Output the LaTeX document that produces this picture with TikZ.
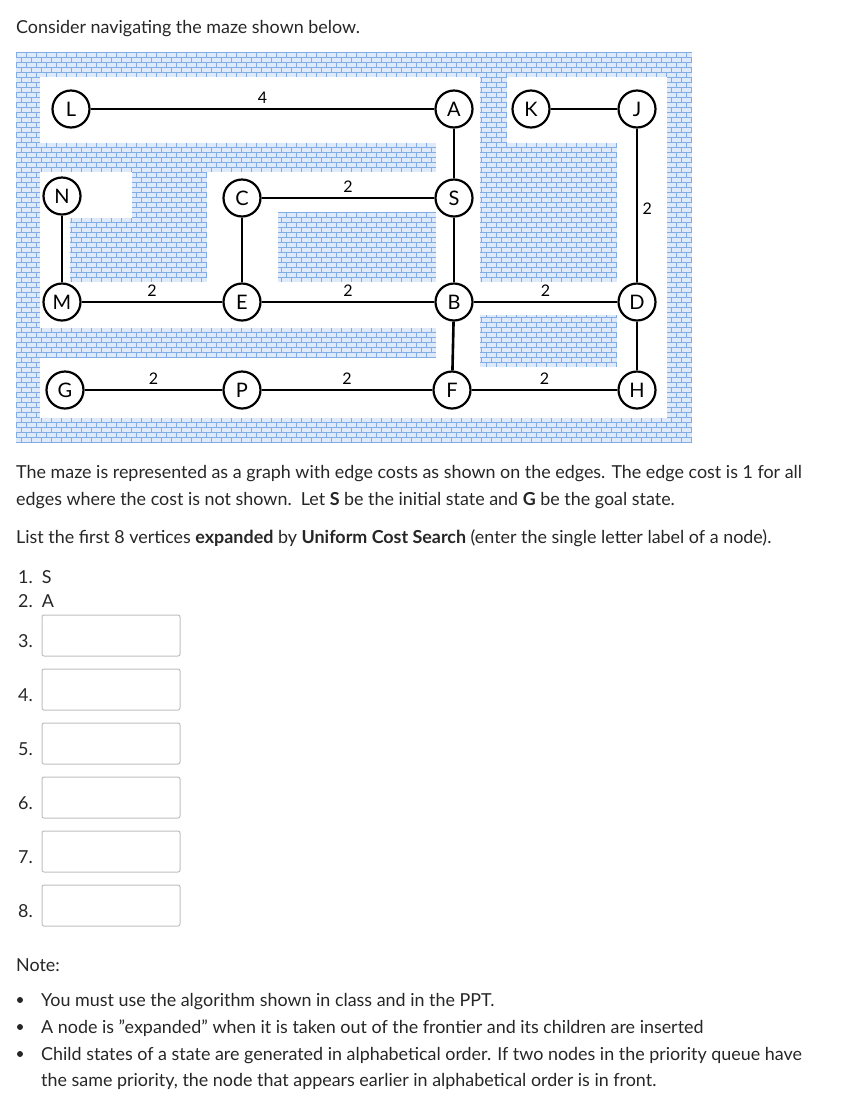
\documentclass[tikz,border=0pt]{standalone}
\usepackage{fontspec}
\setmainfont{Lato}
\begin{document}
\begin{tikzpicture}[x=1pt,y=-1pt,
  vtx/.style={circle,draw,line width=2.2pt,minimum size=37pt,inner sep=0pt,font=\fontsize{20}{20}\selectfont,fill=white},
  edge/.style={line width=2.6pt},
  lab/.style={font=\fontsize{16}{16}\selectfont},
  txt/.style={anchor=base west,inner sep=0pt,font=\fontsize{17.9}{20}\selectfont,text=black!85},
  ansbox/.style={draw=black!25,line width=1pt,rounded corners=2pt}]
\useasboundingbox (0,0) rectangle (842,1104);
\definecolor{brick}{RGB}{222,234,250}
\definecolor{brickline}{RGB}{130,172,228}
% maze walls
\fill[brick] (16,52) rectangle (692,443);
\begin{scope}
\clip (16,52) rectangle (692,443);
\foreach \y in {52,57,...,443} \draw[brickline,line width=0.5pt] (16,\y) -- (692,\y);
\foreach \x in {16,26,...,692} \draw[brickline,line width=0.5pt,dash pattern=on 5pt off 5pt] (\x,52) -- (\x,443);
\foreach \x in {21,31,...,692} \draw[brickline,line width=0.5pt,dash pattern=on 5pt off 5pt,dash phase=5pt] (\x,52) -- (\x,443);
\end{scope}
\fill[white] (40,77) rectangle (480,143);
\fill[white] (507,77) rectangle (667,143);
\fill[white] (617,77) rectangle (667,418);
\fill[white] (436,77) rectangle (480,418);
\fill[white] (40,172) rectangle (132,218);
\fill[white] (40,172) rectangle (70,328);
\fill[white] (40,282) rectangle (436,328);
\fill[white] (207,172) rectangle (278,328);
\fill[white] (278,172) rectangle (436,212);
\fill[white] (40,358) rectangle (436,418);
\fill[white] (480,282) rectangle (617,315);
\fill[white] (480,367) rectangle (617,418);
% nodes
\node[vtx] (L) at (71,109) {L};
\node[vtx] (A) at (454,109) {A};
\node[vtx] (K) at (531,109) {K};
\node[vtx] (J) at (637,109) {J};
\node[vtx] (N) at (62,196) {N};
\node[vtx] (C) at (242,198) {C};
\node[vtx] (S) at (454,198) {S};
\node[vtx] (M) at (62,302) {M};
\node[vtx] (E) at (242,302) {E};
\node[vtx] (B) at (454,302) {B};
\node[vtx] (D) at (637,302) {D};
\node[vtx] (G) at (65,390) {G};
\node[vtx] (P) at (242,390) {P};
\node[vtx] (F) at (452,390) {F};
\node[vtx] (H) at (637,390) {H};
% edges
\draw[edge] (L) -- node[lab,above=1pt]{4} (A);
\draw[edge] (K) -- (J);
\draw[edge] (A) -- (S);
\draw[edge] (C) -- node[lab,above=1pt]{2} (S);
\draw[edge] (J) -- node[lab,right=1pt,pos=0.52]{2} (D);
\draw[edge] (N) -- (M);
\draw[edge] (C) -- (E);
\draw[edge] (S) -- (B);
\draw[edge] (M) -- node[lab,above=1pt]{2} (E);
\draw[edge] (E) -- node[lab,above=1pt]{2} (B);
\draw[edge] (B) -- node[lab,above=1pt]{2} (D);
\draw[edge] (B) -- (F);
\draw[edge] (D) -- (H);
\draw[edge] (G) -- node[lab,above=1pt]{2} (P);
\draw[edge] (P) -- node[lab,above=1pt]{2} (F);
\draw[edge] (F) -- node[lab,above=1pt]{2} (H);
% text
\node[txt] (t0) at (16,33) {Consider navigating the maze shown below.};
\node[txt] (t1) at (16,478) {The maze is represented as a graph with edge costs as shown on the edges. The edge cost is 1 for all};
\node[txt] (t2) at (16,505) {edges where the cost is not shown.\ \ Let \textbf{S} be the initial state and \textbf{G} be the goal state.};
\node[txt] (t3) at (16,543) {List the first 8 vertices \textbf{expanded} by \textbf{Uniform Cost Search} (enter the single letter label of a node).};
\node[txt] (l1) at (18,583) {1.\ \ S};
\node[txt] (l2) at (18,607) {2.\ \ A};
\foreach \i/\n in {0/3,1/4,2/5,3/6,4/7,5/8}{
  \node[txt] (n\n) at (18,647+54*\i) {\n.};
  \draw[ansbox] (42,615+54*\i) rectangle (180,656+54*\i);
}
\node[txt] (note) at (16,971) {Note:};
\foreach \yy/\tt in {1006/{You must use the algorithm shown in class and in the PPT.},
  1033/{A node is \symbol{34}expanded\symbol{34} when it is taken out of the frontier and its children are inserted},
  1060/{Child states of a state are generated in alphabetical order. If two nodes in the priority queue have}}{
  \fill[black!85] (20,\yy-6) circle (3pt);
  \node[txt] at (41,\yy) {\tt};
}
\node[txt] (last) at (41,1086) {the same priority, the node that appears earlier in alphabetical order is in front.};
\end{tikzpicture}
\end{document}
